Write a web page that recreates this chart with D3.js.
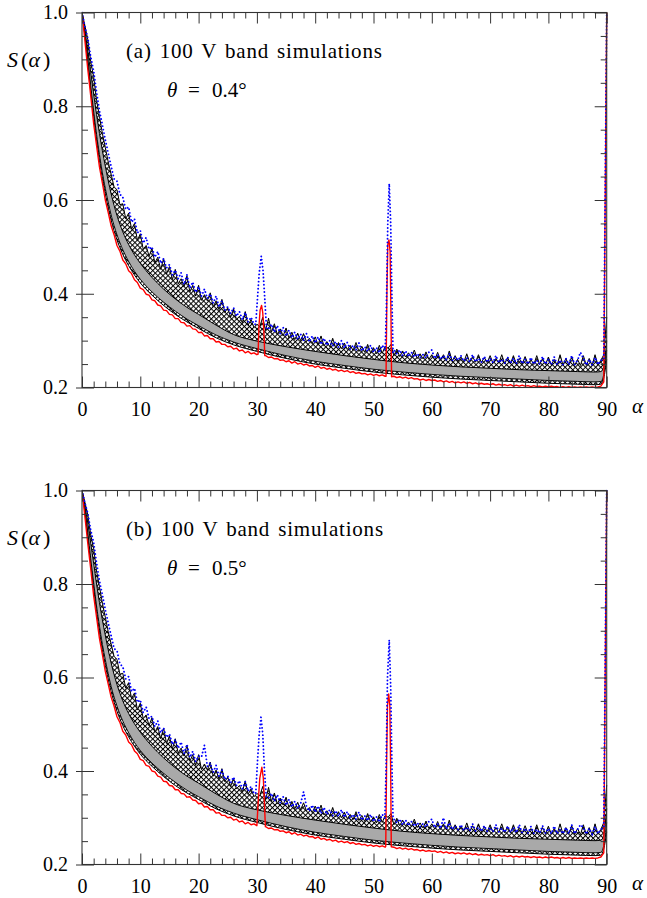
<!DOCTYPE html>
<html><head><meta charset="utf-8">
<script src="https://cdn.jsdelivr.net/npm/d3@7"></script>
<style>
html,body{margin:0;padding:0;background:#fff;}
svg{display:block;}
svg text{font-family:'Liberation Serif','DejaVu Serif',serif;}
</style></head><body>
<svg id="chart" width="647" height="898"></svg>
<script>
// ---------------- DATA ----------------
const xMajor = [0,10,20,30,40,50,60,70,80,90];
const xMinor = [2,4,6,8,12,14,16,18,22,24,26,28,32,34,36,38,42,44,46,48,52,54,56,58,62,64,66,68,72,74,76,78,82,84,86,88];
const yMajor = [0.2,0.4,0.6,0.8,1.0];
const yMinor = [0.25,0.3,0.35,0.45,0.5,0.55,0.65,0.7,0.75,0.85,0.9,0.95];

// smooth-curve abscissae
const alphaSmooth = [0,0.5,1,1.5,2,2.5,3,3.5,4,4.5,5,6,7,8,9,10,12,14,16,18,20,23,26,30,35,40,45,50,55,60,65,70,75,80,85,88,89,89.5,90];

// ---- panel (a): theta = 0.4 deg ----
const lowA  = [1.0,.95,.892,.833,.778,.728,.684,.646,.613,.583,.557,.515,.484,.46,.44,.423,.397,.375,.356,.34,.326,.306,.291,.277,.262,.25,.241,.233,.227,.222,.218,.215,.212,.209,.207,.206,.207,.22,.26];
const midA  = [1.0,.956,.902,.844,.79,.74,.697,.658,.625,.595,.568,.526,.494,.469,.448,.431,.404,.382,.363,.346,.332,.312,.297,.283,.268,.256,.247,.239,.233,.228,.224,.221,.218,.215,.213,.212,.213,.228,.28];
const grayA = [1.0,.962,.918,.872,.826,.782,.742,.705,.672,.641,.613,.567,.532,.505,.483,.465,.435,.41,.389,.371,.356,.333,.313,.299,.287,.277,.268,.26,.253,.248,.244,.241,.238,.236,.234,.233,.234,.245,.3];

// noisy curves, alpha = 0, 0.5, 1, ... 90
const topA = [
1.0,.972,.942,.895,.863,.813,.778,.742,.712,.681,
.655,.628,.622,.59,.592,.56,.572,.538,.55,.514,
.528,.495,.503,.48,.497,.466,.478,.452,.475,.442,
.458,.43,.452,.421,.432,.415,.438,.404,.418,.395,
.418,.386,.398,.385,.402,.372,.385,.366,.388,.36,
.37,.35,.368,.345,.352,.338,.362,.333,.345,.328,
.335,.33,.35,.322,.348,.318,.336,.313,.325,.31,
.327,.305,.318,.302,.316,.3,.315,.298,.305,.294,
.308,.291,.31,.289,.298,.287,.305,.285,.296,.283,
.295,.281,.29,.279,.296,.277,.288,.275,.292,.274,
.285,.272,.29,.273,.288,.284,.292,.268,.282,.266,
.278,.265,.274,.264,.28,.262,.272,.261,.276,.26,
.27,.259,.275,.258,.27,.257,.278,.256,.268,.256,
.265,.255,.272,.254,.266,.254,.27,.253,.264,.253,
.268,.252,.262,.252,.27,.251,.264,.251,.268,.25,
.262,.25,.266,.25,.26,.249,.268,.249,.262,.249,
.265,.248,.26,.248,.27,.248,.262,.248,.266,.247,
.26,.247,.268,.247,.262,.247,.27,.248,.258,.27,
.35];
const blueA = [
1.0,.97,.945,.905,.875,.83,.79,.76,.728,.7,
.672,.645,.64,.612,.606,.58,.585,.553,.56,.53,
.535,.508,.52,.495,.5,.478,.49,.465,.475,.455,
.462,.44,.45,.432,.445,.42,.44,.412,.425,.403,
.415,.395,.41,.39,.4,.38,.395,.372,.385,.365,
.372,.358,.37,.352,.362,.345,.36,.34,.35,.335,
.335,.33,.325,.33,.325,.335,.318,.332,.315,.328,
.31,.322,.306,.318,.303,.314,.3,.315,.297,.31,
.295,.308,.292,.305,.29,.3,.288,.298,.286,.3,
.284,.296,.282,.29,.28,.295,.278,.287,.277,.29,
.275,.285,.274,.29,.272,.28,.27,.28,.272,.28,
.268,.278,.266,.275,.265,.272,.264,.27,.263,.275,
.28,.262,.27,.26,.268,.259,.272,.258,.265,.258,
.268,.256,.263,.255,.27,.255,.262,.254,.266,.254,
.262,.253,.268,.253,.26,.252,.265,.252,.262,.251,
.268,.251,.26,.25,.264,.25,.258,.25,.266,.25,
.26,.249,.265,.249,.258,.249,.262,.249,.268,.249,
.258,.275,.262,.248,.26,.248,.264,.249,.258,.26,
1.0];
const redA = [
1.0,.94,.878,.822,.763,.716,.67,.636,.6,.573,
.545,.526,.503,.491,.472,.464,.449,.443,.43,.424,
.412,.409,.399,.397,.387,.385,.376,.374,.365,.364,
.356,.355,.347,.347,.339,.338,.331,.332,.325,.324,
.317,.318,.31,.311,.304,.304,.297,.298,.292,.292,
.287,.288,.282,.284,.278,.28,.274,.277,.272,.274,
.27,.271,.267,.268,.264,.265,.261,.262,.258,.259,
.255,.257,.252,.255,.25,.252,.248,.25,.246,.247,
.243,.246,.241,.243,.239,.241,.237,.239,.235,.237,
.234,.236,.232,.234,.23,.232,.229,.23,.227,.229,
.226,.228,.225,.227,.224,.225,.222,.224,.221,.223,
.22,.222,.219,.221,.218,.219,.216,.218,.215,.217,
.215,.216,.213,.215,.212,.214,.211,.213,.21,.212,
.21,.212,.209,.211,.208,.21,.207,.209,.207,.208,
.206,.208,.205,.207,.205,.206,.204,.206,.203,.205,
.203,.205,.203,.204,.202,.204,.202,.203,.201,.203,
.201,.203,.201,.202,.2,.202,.2,.202,.2,.201,
.2,.201,.2,.201,.2,.201,.2,.201,.203,.212,
1.0];
// resonance peaks [alpha, S]
const redPeakA1  = [[30.2,.271],[30.35,.33],[30.55,.365],[30.8,.375],[31.0,.36],[31.2,.32],[31.35,.268]];
const redPeakA2  = [[52.15,.224],[52.3,.4],[52.45,.505],[52.65,.515],[52.85,.49],[53.0,.35],[53.1,.223]];
const bluePeakA1 = [[29.8,.335],[30.1,.39],[30.4,.445],[30.75,.48],[31.05,.45],[31.35,.39],[31.65,.325]];
const bluePeakA2 = [[52.0,.28],[52.2,.36],[52.45,.55],[52.7,.635],[52.95,.55],[53.15,.40],[53.35,.275]];

// ---- panel (b): theta = 0.5 deg ----
const lowB  = [1.0,.954,.9,.843,.791,.741,.697,.659,.626,.596,.57,.528,.497,.473,.453,.436,.41,.388,.369,.353,.339,.319,.304,.29,.275,.263,.254,.246,.24,.235,.231,.228,.225,.222,.22,.219,.22,.233,.27];
const midB  = [1.0,.96,.91,.854,.803,.753,.71,.671,.638,.608,.581,.539,.507,.482,.461,.444,.417,.395,.376,.359,.345,.325,.31,.296,.281,.269,.26,.252,.246,.241,.237,.234,.231,.228,.226,.225,.226,.241,.29];
const grayB = [1.0,.968,.93,.887,.844,.8,.76,.723,.69,.659,.631,.585,.55,.523,.501,.483,.453,.428,.407,.389,.374,.351,.331,.317,.305,.295,.286,.278,.271,.266,.262,.259,.256,.254,.252,.251,.252,.263,.32];
const topB = [
1.0,.975,.948,.905,.876,.828,.794,.759,.729,.698,
.672,.645,.639,.607,.609,.577,.589,.555,.567,.531,
.545,.512,.52,.497,.514,.483,.495,.469,.492,.459,
.475,.447,.469,.438,.449,.432,.455,.421,.435,.412,
.435,.403,.415,.402,.419,.389,.402,.383,.405,.377,
.387,.367,.385,.362,.369,.355,.379,.35,.362,.345,
.352,.347,.367,.339,.365,.335,.353,.33,.342,.327,
.344,.322,.335,.319,.333,.317,.332,.315,.322,.311,
.325,.308,.327,.306,.315,.304,.322,.302,.313,.30,
.312,.298,.307,.296,.313,.294,.305,.292,.309,.291,
.302,.289,.307,.29,.305,.301,.309,.285,.299,.283,
.295,.282,.291,.281,.297,.279,.289,.278,.293,.277,
.287,.276,.292,.275,.287,.274,.295,.273,.285,.273,
.282,.272,.289,.271,.283,.271,.287,.27,.281,.27,
.285,.269,.279,.269,.287,.268,.281,.268,.285,.267,
.279,.267,.283,.267,.277,.266,.285,.266,.279,.266,
.282,.265,.277,.265,.287,.265,.279,.265,.283,.264,
.277,.264,.285,.264,.279,.264,.287,.265,.275,.29,
.37];
const blueB = [
1.0,.973,.951,.915,.888,.845,.806,.777,.745,.717,
.689,.662,.657,.629,.623,.597,.602,.57,.577,.547,
.552,.525,.537,.512,.517,.495,.507,.482,.492,.472,
.479,.457,.467,.449,.462,.437,.457,.429,.442,.42,
.432,.43,.455,.41,.417,.397,.412,.389,.402,.382,
.389,.375,.387,.369,.379,.362,.377,.357,.367,.352,
.352,.347,.342,.347,.342,.352,.335,.349,.332,.345,
.327,.339,.323,.335,.32,.33,.355,.325,.314,.327,
.312,.325,.309,.322,.307,.317,.305,.315,.303,.317,
.301,.313,.299,.307,.297,.312,.295,.304,.294,.307,
.292,.302,.291,.307,.289,.297,.287,.297,.289,.297,
.285,.295,.283,.292,.282,.289,.281,.287,.28,.292,
.297,.279,.287,.277,.30,.276,.289,.275,.282,.275,
.285,.273,.28,.272,.287,.272,.279,.271,.283,.271,
.279,.27,.285,.27,.277,.269,.282,.269,.279,.268,
.285,.268,.277,.267,.281,.267,.275,.267,.283,.267,
.277,.266,.282,.266,.275,.266,.279,.266,.285,.266,
.275,.285,.279,.265,.277,.265,.281,.266,.275,.28,
1.0];
const redB = [
1.0,.944,.886,.832,.775,.729,.683,.649,.613,.586,
.558,.539,.516,.504,.485,.477,.462,.456,.443,.437,
.425,.422,.412,.41,.40,.398,.389,.387,.378,.377,
.369,.368,.36,.36,.352,.351,.344,.345,.338,.337,
.33,.331,.323,.324,.317,.317,.31,.311,.305,.305,
.30,.301,.295,.297,.291,.293,.287,.29,.285,.287,
.283,.284,.28,.281,.277,.278,.274,.275,.271,.272,
.268,.27,.265,.268,.263,.265,.261,.263,.259,.26,
.256,.259,.254,.256,.252,.254,.25,.252,.248,.25,
.247,.249,.245,.247,.243,.245,.242,.243,.24,.242,
.239,.241,.238,.24,.237,.238,.235,.237,.234,.236,
.233,.235,.232,.234,.231,.232,.229,.231,.228,.23,
.228,.229,.226,.228,.225,.227,.224,.226,.223,.225,
.223,.225,.222,.224,.221,.223,.22,.222,.22,.221,
.219,.221,.218,.22,.218,.219,.217,.219,.216,.218,
.216,.218,.216,.217,.215,.217,.215,.216,.214,.216,
.214,.216,.214,.215,.213,.215,.213,.215,.213,.214,
.213,.214,.213,.214,.213,.214,.213,.214,.216,.225,
1.0];
const redPeakB1  = [[30.0,.283],[30.2,.33],[30.5,.385],[30.85,.408],[31.1,.385],[31.3,.33],[31.45,.281]];
const redPeakB2  = [[52.1,.239],[52.25,.42],[52.4,.54],[52.6,.565],[52.8,.54],[52.95,.40],[53.05,.238]];
const bluePeakB1 = [[29.8,.352],[30.1,.42],[30.4,.48],[30.7,.515],[31.0,.48],[31.3,.40],[31.6,.345]];
const bluePeakB2 = [[51.95,.30],[52.15,.40],[52.4,.60],[52.7,.68],[52.95,.58],[53.15,.42],[53.35,.30]];

// ---------------- DRAWING ----------------
const svg = d3.select('#chart');
svg.append('rect').attr('width',647).attr('height',898).attr('fill','#fff');

const defs = svg.append('defs');
const pat = defs.append('pattern').attr('id','xhatch').attr('patternUnits','userSpaceOnUse')
  .attr('width',3.6).attr('height',3.6).attr('patternTransform','rotate(45)');
pat.append('rect').attr('width',3.6).attr('height',3.6).attr('fill','#fff');
pat.append('rect').attr('width',3.6).attr('height',1.0).attr('fill','#000');
pat.append('rect').attr('width',1.0).attr('height',3.6).attr('fill','#000');

const x = d3.scaleLinear().domain([0,90]).range([82,606.7]);
const alphaNoisy = d3.range(181).map(i => i/2);

function withPeaks(values, peaks) {
  let pts = alphaNoisy.map((a,i) => [a, values[i]]);
  peaks.forEach(p => {
    const lo = p[0][0], hi = p[p.length-1][0];
    pts = pts.filter(d => d[0] < lo || d[0] > hi).concat(p);
  });
  return pts.sort((a,b) => a[0]-b[0]);
}
const pairs = (xs, ys) => xs.map((a,i) => [a, ys[i]]);

const panels = [
  {id:'a', yTop:12.5, yBottom:387.5, title:'(a) 100 V band simulations', theta:'0.4°',
   low:lowA, mid:midA, gray:grayA, top:topA, blue:blueA, red:redA,
   redPeaks:[redPeakA1, redPeakA2], bluePeaks:[bluePeakA1, bluePeakA2]},
  {id:'b', yTop:490.5, yBottom:864.5, title:'(b) 100 V band simulations', theta:'0.5°',
   low:lowB, mid:midB, gray:grayB, top:topB, blue:blueB, red:redB,
   redPeaks:[redPeakB1, redPeakB2], bluePeaks:[bluePeakB1, bluePeakB2]}
];

panels.forEach(P => {
  const y = d3.scaleLinear().domain([0.2,1]).range([P.yBottom, P.yTop]);
  const floor = P.yBottom + 6;
  defs.append('clipPath').attr('id','clip'+P.id).append('rect')
    .attr('x', x(0)).attr('y', P.yTop-1).attr('width', x(90)-x(0)+2).attr('height', P.yBottom-P.yTop+1);
  const plot = svg.append('g').attr('clip-path', `url(#clip${P.id})`);

  const areaLin = d3.area().x(d=>x(d[0])).y0(floor).y1(d=>y(d[1]));
  const areaSm = d3.area().x(d=>x(d[0])).y0(floor).y1(d=>y(d[1])).curve(d3.curveMonotoneX);
  const lineLin = d3.line().x(d=>x(d[0])).y(d=>y(d[1]));
  const lineSm = d3.line().x(d=>x(d[0])).y(d=>y(d[1])).curve(d3.curveMonotoneX);

  const topPts = pairs(alphaNoisy, P.top);
  const grayPts = pairs(alphaSmooth, P.gray);
  const midPts = pairs(alphaSmooth, P.mid);
  const lowPts = pairs(alphaSmooth, P.low);

  plot.append('path').attr('d', areaLin(topPts)).attr('fill','url(#xhatch)');
  plot.append('path').attr('d', areaSm(grayPts)).attr('fill','#a9a9a9');
  plot.append('path').attr('d', areaSm(midPts)).attr('fill','url(#xhatch)');
  plot.append('path').attr('d', areaSm(lowPts)).attr('fill','#fff');

  plot.append('path').attr('d', lineSm(grayPts)).attr('fill','none').attr('stroke','#000').attr('stroke-width',1);
  plot.append('path').attr('d', lineSm(midPts)).attr('fill','none').attr('stroke','#000').attr('stroke-width',0.9);
  plot.append('path').attr('d', lineSm(lowPts)).attr('fill','none').attr('stroke','#000').attr('stroke-width',1);
  plot.append('path').attr('d', lineLin(topPts)).attr('fill','none').attr('stroke','#000').attr('stroke-width',1);

  plot.append('path').attr('d', lineLin(withPeaks(P.red, P.redPeaks)))
    .attr('fill','none').attr('stroke','#ff0000').attr('stroke-width',1.4).attr('stroke-linejoin','round');
  plot.append('path').attr('d', lineLin(withPeaks(P.blue, P.bluePeaks)))
    .attr('fill','none').attr('stroke','#0000ff').attr('stroke-width',1.9)
    .attr('stroke-dasharray','0.01 3.6').attr('stroke-linecap','round');

  // frame
  svg.append('rect').attr('x', x(0)).attr('y', P.yTop).attr('width', x(90)-x(0)).attr('height', P.yBottom-P.yTop)
    .attr('fill','none').attr('stroke','#333').attr('stroke-width',1.1);

  const styleTicks = g => { g.select('.domain').remove(); g.selectAll('line').attr('stroke','#333').attr('stroke-width',1); g.attr('font-family',null); };
  // bottom
  svg.append('g').attr('transform',`translate(0,${P.yBottom})`).call(d3.axisBottom(x).tickValues(xMajor).tickSize(-11).tickFormat('')).call(styleTicks);
  svg.append('g').attr('transform',`translate(0,${P.yBottom})`).call(d3.axisBottom(x).tickValues(xMinor).tickSize(-6).tickFormat('')).call(styleTicks);
  const xl = svg.append('g').attr('transform',`translate(0,${P.yBottom})`)
    .call(d3.axisBottom(x).tickValues(xMajor).tickSize(0).tickPadding(14).tickFormat(d3.format('d'))).call(styleTicks);
  xl.selectAll('text').attr('font-size',20).attr('fill','#000');
  // top
  svg.append('g').attr('transform',`translate(0,${P.yTop})`).call(d3.axisTop(x).tickValues(xMajor).tickSize(-11).tickFormat('')).call(styleTicks);
  svg.append('g').attr('transform',`translate(0,${P.yTop})`).call(d3.axisTop(x).tickValues(xMinor).tickSize(-6).tickFormat('')).call(styleTicks);
  // right
  svg.append('g').attr('transform',`translate(${x(90)},0)`).call(d3.axisRight(y).tickValues(yMajor).tickSize(-12).tickFormat('')).call(styleTicks);
  svg.append('g').attr('transform',`translate(${x(90)},0)`).call(d3.axisRight(y).tickValues(yMinor).tickSize(-6).tickFormat('')).call(styleTicks);
  // left
  svg.append('g').attr('transform',`translate(${x(0)},0)`).call(d3.axisLeft(y).tickValues(yMajor).tickSize(-12).tickFormat('')).call(styleTicks);
  svg.append('g').attr('transform',`translate(${x(0)},0)`).call(d3.axisLeft(y).tickValues(yMinor).tickSize(-6).tickFormat('')).call(styleTicks);
  const yl = svg.append('g').attr('transform',`translate(${x(0)},0)`)
    .call(d3.axisLeft(y).tickValues(yMajor).tickSize(6).tickPadding(8).tickFormat(d3.format('.1f'))).call(styleTicks);
  yl.selectAll('text').attr('font-size',20).attr('fill','#000');

  // texts
  const T = svg.append('g').attr('font-size',21).attr('fill','#000');
  const s = T.append('text').attr('y', P.yTop+54).attr('font-size',22);
  s.append('tspan').attr('x',7).attr('font-style','italic').text('S');
  s.append('tspan').attr('x',21).text('(');
  s.append('tspan').attr('x',28.5).attr('font-style','italic').text('α');
  s.append('tspan').attr('x',43).text(')');
  T.append('text').attr('x',126).attr('y',P.yTop+45).attr('letter-spacing',0.8).attr('word-spacing',2).text(P.title);
  const th = T.append('text').attr('y', P.yTop+84);
  th.append('tspan').attr('x',167).attr('font-style','italic').text('θ');
  th.append('tspan').attr('x',188).text('=');
  th.append('tspan').attr('x',212).text(P.theta);
  T.append('text').attr('x',632).attr('y',P.yBottom+25).attr('font-style','italic').text('α');
});
</script></body></html>
